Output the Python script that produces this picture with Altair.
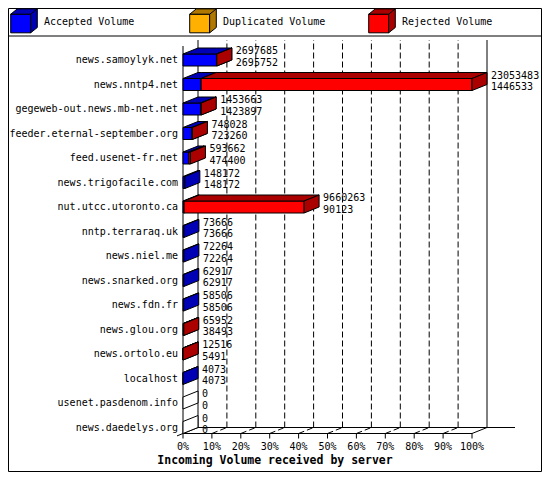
import altair as alt
import pandas as pd

# ---------------- data ----------------
SERVERS = [
    "news.samoylyk.net", "news.nntp4.net", "gegeweb-out.news.mb-net.net",
    "feeder.eternal-september.org", "feed.usenet-fr.net", "news.trigofacile.com",
    "nut.utcc.utoronto.ca", "nntp.terraraq.uk", "news.niel.me", "news.snarked.org",
    "news.fdn.fr", "news.glou.org", "news.ortolo.eu", "localhost",
    "usenet.pasdenom.info", "news.daedelys.org",
]
TOTAL = [2697685, 23053483, 1453663, 748028, 593662, 148172, 9660263, 73666,
         72264, 62917, 58506, 65952, 12516, 4073, 0, 0]
ACCEPTED = [2695752, 1446533, 1423897, 723260, 474400, 148172, 90123, 73666,
            72264, 62917, 58506, 38493, 5491, 4073, 0, 0]
DUPLICATED = [0, 0, 0, 0, 0, 0, 0, 0, 0, 0, 0, 0, 0, 0, 0, 0]
REJECTED = [t - a - d for t, a, d in zip(TOTAL, ACCEPTED, DUPLICATED)]

SERIES = ["Accepted Volume", "Duplicated Volume", "Rejected Volume"]
FRONT = ["#0000ff", "#ffb000", "#ff0000"]
DARK = ["#0000b4", "#b07800", "#aa0000"]
TICKS = [0, 10, 20, 30, 40, 50, 60, 70, 80, 90, 100]
TICK_LABELS = ["0%", "10%", "20%", "30%", "40%", "50%", "60%", "70%", "80%", "90%", "100%"]
XTITLE = "Incoming Volume received by server"

# ---------------- layout ----------------
W, H = 534, 464
PX0, PX100 = 175, 464
Y0, S = 52, 24.5
PPX = (PX100 - PX0) / 100.0


def hx(px):
    return px / PPX


def vy(px):
    return px / S


DX, DY, HB = hx(15), vy(6), vy(6)
XMIN, XMAX = -PX0 / PPX, (W - PX0) / PPX
YMIN, YMAX = -Y0 / S, (H - Y0) / S
NROW = len(SERVERS)
FLOOR_BACK = NROW - 1
FLOOR_FRONT = FLOOR_BACK + DY
TOP_FRONT = -vy(14)
TOP_BACK = TOP_FRONT - DY
VMAX = max(TOTAL)
MONO = "DejaVu Sans Mono"
MARK = " (3d)"
FACES = [s + MARK for s in SERIES]

xs = alt.Scale(domain=[XMIN, XMAX], nice=False, zero=False)
ys = alt.Scale(domain=[YMIN, YMAX], nice=False, zero=False, reverse=True)


def X(f):
    return alt.X(f, type="quantitative", scale=xs, axis=None)


def Y(f):
    return alt.Y(f, type="quantitative", scale=ys, axis=None)


# ---------------- bar geometry ----------------
fronts = {s: [] for s in SERIES}
tops = {s: [] for s in SERIES}
sides = {s: [] for s in SERIES}
blank = []
for i, name in enumerate(SERVERS):
    vals = [ACCEPTED[i], DUPLICATED[i], REJECTED[i]]
    cum = 0
    for k, s in enumerate(SERIES):
        v = vals[k]
        x0 = cum / VMAX * 100
        cum += v
        x1 = cum / VMAX * 100
        if v <= 0:
            continue
        pid = f"p{i}_{k}"
        face = FACES[k]
        fronts[s].append(dict(series=s, x=x0, x2=x1, y=i - HB, y2=i + HB))
        yt = i - HB
        for xb in sorted([x0, x1, x0 + DX, x1 + DX]):
            up = yt - DY * min(1, max(0, (xb - x0) / DX))
            lo = yt - DY * min(1, max(0, (xb - x1) / DX))
            tops[s].append(dict(face=face, pid=pid, x=xb, y=up, y2=lo))
        sides[s].append(dict(face=face, pid=pid, x=x1, y=i - HB, y2=i + HB))
        sides[s].append(dict(face=face, pid=pid, x=x1 + DX, y=i - HB - DY, y2=i + HB - DY))
    if TOTAL[i] == 0:
        blank.append(dict(pid=f"b{i}", x=0, y=i - HB, y2=i + HB))
        blank.append(dict(pid=f"b{i}", x=DX, y=i - HB - DY, y2=i + HB - DY))

FRONT_PATH = "M-1,-0.6L0.5,-0.6L0.5,0.8L-1,0.8Z"
DARK_PATH = "M-1,-0.6L-0.5,-1L1,-1L1,0.4L0.5,0.8L0.5,-0.6ZM0.5,-0.6L1,-1"


def legend(path, label_opacity, label_expr):
    return alt.Legend(
        title=None, orient="none", legendX=2, legendY=0, direction="horizontal",
        columns=3, gridAlign="all", columnPadding=40, symbolSize=708,
        symbolType=path, symbolStrokeColor="black", symbolStrokeWidth=1,
        symbolOpacity=1, labelFont=MONO, labelFontSize=10, labelColor="black",
        labelOffset=6, labelOpacity=label_opacity, labelExpr=label_expr,
    )


fill_enc = alt.Fill("series:N", scale=alt.Scale(domain=SERIES, range=FRONT),
                    legend=legend(FRONT_PATH, 1, "datum.label"))
color_enc = alt.Color("face:N", scale=alt.Scale(domain=FACES, range=DARK),
                      legend=legend(DARK_PATH, 0, f"replace(datum.label, '{MARK}', '')"))

# ---------------- frame lines ----------------
seg = []
for p in TICKS[1:-1]:
    seg.append(dict(x=p + DX, x2=p + DX, y=FLOOR_BACK, y2=TOP_BACK, dash=1))
    seg.append(dict(x=p, x2=p + DX, y=FLOOR_FRONT, y2=FLOOR_BACK, dash=1))
seg += [
    dict(x=0, x2=0, y=TOP_FRONT, y2=FLOOR_FRONT, dash=0),
    dict(x=DX, x2=DX, y=TOP_BACK, y2=FLOOR_BACK, dash=0),
    dict(x=100 + DX, x2=100 + DX, y=TOP_BACK, y2=FLOOR_BACK, dash=0),
    dict(x=DX, x2=100 + DX + hx(28), y=FLOOR_BACK, y2=FLOOR_BACK, dash=0),
    dict(x=0, x2=100, y=FLOOR_FRONT, y2=FLOOR_FRONT, dash=0),
    dict(x=-hx(6), x2=DX, y=FLOOR_FRONT + vy(2.4), y2=FLOOR_BACK, dash=0),
    dict(x=100, x2=100 + DX, y=FLOOR_FRONT, y2=FLOOR_BACK, dash=0),
    dict(x=XMIN, x2=XMAX, y=(28 - Y0) / S, y2=(28 - Y0) / S, dash=0),
]
for p in TICKS:
    seg.append(dict(x=p, x2=p, y=FLOOR_FRONT, y2=FLOOR_FRONT + vy(5), dash=0))
segdf = pd.DataFrame(seg)

frame = pd.DataFrame(dict(x=[XMIN + hx(0.5)], x2=[XMAX - hx(0.5)],
                          y=[YMIN + vy(0.5)], y2=[YMAX - vy(0.5)]))

layers = [
    alt.Chart(frame).mark_rect(fill="white", stroke="black", strokeWidth=1).encode(
        x=X("x"), x2="x2", y=Y("y"), y2="y2"),
    alt.Chart(segdf[segdf.dash == 1]).mark_rule(
        color="black", strokeWidth=1, strokeDash=[6, 3]).encode(
        x=X("x"), x2="x2", y=Y("y"), y2="y2"),
    alt.Chart(segdf[segdf.dash == 0]).mark_rule(color="black", strokeWidth=1).encode(
        x=X("x"), x2="x2", y=Y("y"), y2="y2"),
]

for s in SERIES:
    if fronts[s]:
        layers.append(alt.Chart(pd.DataFrame(fronts[s])).mark_rect(
            stroke="black", strokeWidth=1).encode(
            x=X("x"), x2="x2", y=Y("y"), y2="y2", fill=fill_enc))
        for part in (tops[s], sides[s]):
            layers.append(alt.Chart(pd.DataFrame(part)).mark_area(
                orient="vertical", interpolate="linear", stroke="black",
                strokeWidth=1, opacity=1).encode(
                x=X("x"), y=Y("y"), y2="y2", color=color_enc, detail="pid:N"))

if blank:
    layers.append(alt.Chart(pd.DataFrame(blank)).mark_area(
        orient="vertical", interpolate="linear", fill="white", stroke="black",
        strokeWidth=1).encode(x=X("x"), y=Y("y"), y2="y2", detail="pid:N"))

# ---------------- texts ----------------
rows = pd.DataFrame(dict(
    name=SERVERS, r=list(range(NROW)),
    lx=[t / VMAX * 100 + DX + hx(4) for t in TOTAL],
    ttxt=[str(t) for t in TOTAL], atxt=[str(a) for a in ACCEPTED],
))
rows["lab_x"] = -hx(5)
rows["ty"] = rows["r"] - vy(9)
rows["ay"] = rows["r"] + vy(2.5)

txt = dict(font=MONO, fontSize=10, color="black", baseline="middle")
layers.append(alt.Chart(rows).mark_text(align="right", **txt).encode(
    x=X("lab_x"), y=Y("r"), text="name:N"))
layers.append(alt.Chart(rows).mark_text(align="left", **txt).encode(
    x=X("lx"), y=Y("ty"), text="ttxt:N"))
layers.append(alt.Chart(rows).mark_text(align="left", **txt).encode(
    x=X("lx"), y=Y("ay"), text="atxt:N"))

ticks = pd.DataFrame(dict(p=TICKS, t=TICK_LABELS))
ticks["y"] = FLOOR_FRONT + vy(13)
layers.append(alt.Chart(ticks).mark_text(align="center", **txt).encode(
    x=X("p"), y=Y("y"), text="t:N"))

title = pd.DataFrame(dict(t=[XTITLE], x=[(XMIN + XMAX) / 2], y=[FLOOR_FRONT + vy(27)]))
layers.append(alt.Chart(title).mark_text(
    align="center", baseline="middle", font=MONO, fontSize=11.5, fontWeight="bold",
    color="black").encode(x=X("x"), y=Y("y"), text="t:N"))

chart = alt.layer(*layers).properties(
    width=W, height=H, padding=0, autosize=alt.AutoSizeParams(type="none"),
    background="white",
).configure_view(stroke=None)

chart.save("out.html", embed_options={"renderer": "svg", "actions": False})
